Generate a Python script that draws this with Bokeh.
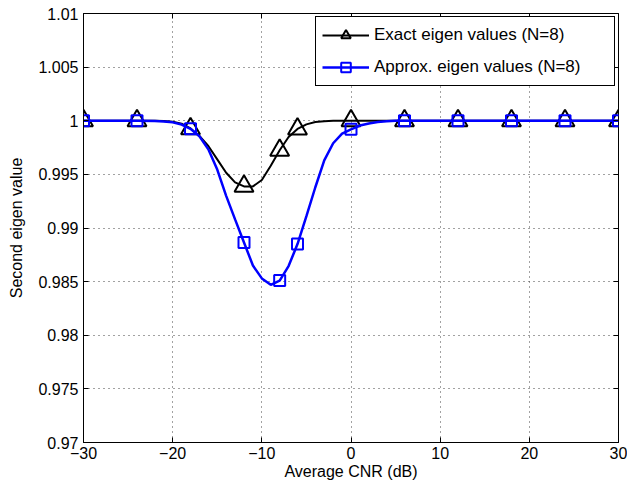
from bokeh.plotting import figure
from bokeh.models import (FixedTicker, CustomJSTickFormatter, Legend, LegendItem,
                          LinearAxis, Range1d)
from bokeh.embed import file_html
from bokeh.resources import INLINE

# ---- data ----
curve_x = [-30, -28, -26, -24, -22, -21, -20, -19, -18, -17, -16, -15, -14, -13,
           -12, -11, -10, -9, -8, -7, -6, -5, -4, -3, -2, -1, 0, 1, 2, 3, 4, 5,
           6, 8, 10, 12, 14, 16, 18, 20, 22, 24, 26, 28, 30]
exact_curve = [1.0, 1.0, 1.0, 1.0, 0.99999, 0.99997, 0.99991, 0.99973, 0.99928,
               0.99858, 0.99765, 0.99640, 0.99515, 0.99425, 0.99388, 0.99388,
               0.99447, 0.99580, 0.99725, 0.99848, 0.99924, 0.99966, 0.99988,
               0.99996, 0.99999, 1.0, 1.0, 1.0, 1.0, 1.0, 1.0, 1.0,
               1.0, 1.0, 1.0, 1.0, 1.0, 1.0, 1.0, 1.0, 1.0, 1.0, 1.0, 1.0, 1.0]
approx_curve = [1.0, 1.0, 1.0, 1.0, 0.99998, 0.99994, 0.99985, 0.99965, 0.99925,
                0.99855, 0.99735, 0.99545, 0.99300, 0.99080, 0.98865, 0.98650,
                0.98530, 0.98470, 0.98510, 0.98645, 0.98850, 0.99110, 0.99380,
                0.99630, 0.99790, 0.99880, 0.99920, 0.99955, 0.99975, 0.99988,
                0.99995, 0.99999, 1.0, 1.0, 1.0, 1.0, 1.0, 1.0, 1.0, 1.0, 1.0,
                1.0, 1.0, 1.0, 1.0]

marker_x = [-30, -24, -18, -12, -8, -6, 0, 6, 12, 18, 24, 30]
exact_markers = [1.0, 1.0, 0.99925, 0.99390, 0.99725, 0.99924, 1.0, 1.0, 1.0, 1.0, 1.0, 1.0]
approx_markers = [1.0, 1.0, 0.99925, 0.98865, 0.98510, 0.98850, 0.99920, 1.0, 1.0, 1.0, 1.0, 1.0]

x_ticks = [-30, -20, -10, 0, 10, 20, 30]
y_ticks = [0.97, 0.975, 0.98, 0.985, 0.99, 0.995, 1.0, 1.005, 1.01]

series_labels = ["Exact eigen values (N=8)", "Approx. eigen values (N=8)"]
x_label = "Average CNR (dB)"
y_label = "Second eigen value"

FONT = "Liberation Sans"

p = figure(output_backend="svg", toolbar_location=None,
           frame_width=535, frame_height=429,
           min_border_left=83, min_border_right=9, min_border_top=13, min_border_bottom=48,
           x_range=Range1d(-30, 30), y_range=Range1d(0.97, 1.01),
           background_fill_color="white", border_fill_color="white")

p.outline_line_color = "black"
p.outline_line_width = 1
p.outline_line_alpha = 1

xf = CustomJSTickFormatter(code="return tick < 0 ? '\\u2212' + (-tick) : '' + tick;")
yf = CustomJSTickFormatter(code="var s = tick.toFixed(3).replace(/0+$/, ''); return s.replace(/\\.$/, '');")

for ax, ticks, fmt in ((p.xaxis[0], x_ticks, xf), (p.yaxis[0], y_ticks, yf)):
    ax.ticker = FixedTicker(ticks=ticks)
    ax.formatter = fmt
    ax.major_tick_in = 5
    ax.major_tick_out = 0
    ax.minor_tick_line_color = None
    ax.axis_line_color = "black"
    ax.major_tick_line_color = "black"
    ax.major_label_text_font = FONT
    ax.major_label_text_font_size = "16px"
    ax.major_label_text_color = "black"
    ax.axis_label_text_font = FONT
    ax.axis_label_text_font_size = "16px"
    ax.axis_label_text_font_style = "normal"
    ax.axis_label_text_color = "black"

p.xaxis[0].axis_label = x_label
p.yaxis[0].axis_label = y_label
p.xaxis[0].major_label_standoff = 4
p.xaxis[0].axis_label_standoff = 1
p.yaxis[0].major_label_standoff = 5
p.yaxis[0].axis_label_standoff = 10

# tick marks on top and right as in the reference (no labels)
blank = CustomJSTickFormatter(code="return '';")
top = LinearAxis(ticker=FixedTicker(ticks=x_ticks), formatter=blank,
                 major_tick_in=5, major_tick_out=0, major_label_standoff=0,
                 axis_line_color=None, minor_tick_line_color=None,
                 major_tick_line_color="black")
right = LinearAxis(ticker=FixedTicker(ticks=y_ticks), formatter=blank,
                   major_tick_in=5, major_tick_out=0, major_label_standoff=0,
                   axis_line_color=None, minor_tick_line_color=None,
                   major_tick_line_color="black")
p.add_layout(top, "above")
p.add_layout(right, "right")

for g in (p.xgrid[0], p.ygrid[0]):
    g.grid_line_color = "#444444"
    g.grid_line_dash = "1 4"
    g.grid_line_width = 1
p.xgrid[0].ticker = FixedTicker(ticks=x_ticks)
p.ygrid[0].ticker = FixedTicker(ticks=y_ticks)

l1 = p.line(curve_x, exact_curve, line_color="black", line_width=2)
m1 = p.scatter(marker_x, exact_markers, marker="triangle", size=19,
               line_color="black", line_width=2, fill_color=None)
l2 = p.line(curve_x, approx_curve, line_color="#0000ff", line_width=2.5)
m2 = p.scatter(marker_x, approx_markers, marker="square", size=11,
               line_color="#0000ff", line_width=2, fill_color=None)

legend = Legend(items=[LegendItem(label=series_labels[0], renderers=[l1, m1]),
                       LegendItem(label=series_labels[1], renderers=[l2, m2])],
                location="top_right",
                label_text_font=FONT, label_text_font_size="17px",
                label_text_color="black",
                border_line_color="black", border_line_width=1, border_line_alpha=1,
                background_fill_color="white", background_fill_alpha=1,
                padding=6, spacing=8, label_height=24, glyph_height=24,
                glyph_width=47, label_standoff=5, label_width=234, margin=3)
p.add_layout(legend)

open("out.html", "w").write(file_html(p, INLINE))
